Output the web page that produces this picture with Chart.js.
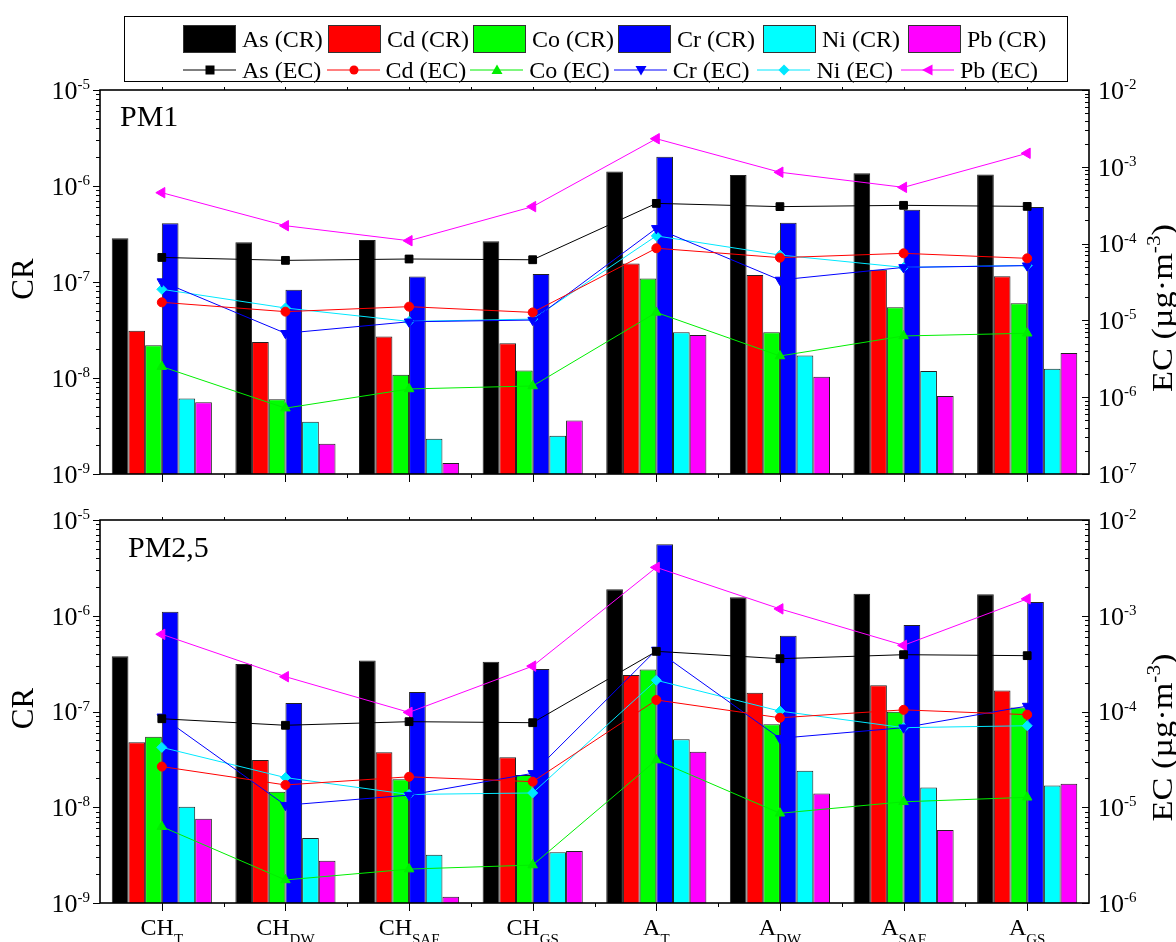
<!DOCTYPE html>
<html>
<head>
<meta charset="utf-8">
<script src="https://cdn.jsdelivr.net/npm/chart.js@4/dist/chart.umd.min.js"></script>
<style>
    html, body { margin: 0; padding: 0; background: #fff; }
    #wrap { position: relative; width: 1176px; height: 942px; overflow: hidden; font-family: "Liberation Serif", "Times New Roman", serif; }
    .panel { position: absolute; left: 0; }
    #legend { position: absolute; left: 124px; top: 16px; width: 944px; height: 66px; border: 1px solid #000; box-sizing: border-box; }
    .item { position: absolute; display: flex; align-items: center; height: 30px; font-size: 24px; line-height: 30px; white-space: nowrap; }
    .swatch { width: 53px; height: 28px; box-sizing: border-box; border: 1px solid #333; margin-right: 6px; }
    .item svg { margin-right: 6px; }
</style>
</head>
<body>
<div id="wrap">
    <canvas id="pm1" class="panel" style="top:0" width="1176" height="490"></canvas>
    <canvas id="pm25" class="panel" style="top:490px" width="1176" height="452"></canvas>
    <div id="legend"></div>
</div>
<script>
const categories = [['CH', 'T'], ['CH', 'DW'], ['CH', 'SAF'], ['CH', 'GS'], ['A', 'T'], ['A', 'DW'], ['A', 'SAF'], ['A', 'GS']];
const metals = ['As', 'Cd', 'Co', 'Cr', 'Ni', 'Pb'];
const barColors = ['#000000', '#ff0000', '#00ff00', '#0000ff', '#00ffff', '#ff00ff'];
const lineColors = ['#000000', '#ff0000', '#00ee00', '#0000ff', '#00e8ff', '#ff00ff'];
const markerStyles = ['rect', 'circle', 'triangle', 'triangle', 'rectRot', 'triangle'];
const markerRotations = [0, 0, 0, 180, 0, -90];
const markerSizes = [5.5, 4.5, 5.5, 5.5, 5, 6];
const crDecades = [-9, -8, -7, -6, -5];
const ecDecadesPM1 = [-7, -6, -5, -4, -3, -2];
const ecDecadesPM25 = [-6, -5, -4, -3, -2];

// PM1 - carcinogenic risk (bars)
const pm1AsCR = [2.85e-7, 2.6e-7, 2.74e-7, 2.65e-7, 1.42e-6, 1.3e-6, 1.36e-6, 1.32e-6];
const pm1CdCR = [3.1e-8, 2.37e-8, 2.7e-8, 2.3e-8, 1.56e-7, 1.18e-7, 1.34e-7, 1.15e-7];
const pm1CoCR = [2.2e-8, 6.0e-9, 1.08e-8, 1.2e-8, 1.09e-7, 3.0e-8, 5.45e-8, 6.0e-8];
const pm1CrCR = [4.1e-7, 8.3e-8, 1.14e-7, 1.21e-7, 2.02e-6, 4.15e-7, 5.66e-7, 6.04e-7];
const pm1NiCR = [6.1e-9, 3.5e-9, 2.33e-9, 2.5e-9, 3.0e-8, 1.72e-8, 1.18e-8, 1.25e-8];
const pm1PbCR = [5.6e-9, 2.07e-9, 1.3e-9, 3.6e-9, 2.8e-8, 1.03e-8, 6.5e-9, 1.82e-8];
// PM1 - exposure concentration (lines)
const pm1AsEC = [6.6e-5, 6.05e-5, 6.3e-5, 6.16e-5, 3.34e-4, 3.03e-4, 3.15e-4, 3.05e-4];
const pm1CdEC = [1.72e-5, 1.3e-5, 1.51e-5, 1.27e-5, 8.7e-5, 6.56e-5, 7.47e-5, 6.43e-5];
const pm1CoEC = [2.5e-6, 7.2e-7, 1.28e-6, 1.4e-6, 1.27e-5, 3.44e-6, 6.27e-6, 6.8e-6];
const pm1CrEC = [3.2e-5, 6.8e-6, 9.6e-6, 1.01e-5, 1.58e-4, 3.36e-5, 4.9e-5, 5.16e-5];
const pm1NiEC = [2.54e-5, 1.45e-5, 9.7e-6, 1.04e-5, 1.26e-4, 7.1e-5, 4.9e-5, 5.2e-5];
const pm1PbEC = [4.6e-4, 1.71e-4, 1.09e-4, 3.03e-4, 2.32e-3, 8.5e-4, 5.4e-4, 1.5e-3];

// PM2,5 - carcinogenic risk (bars)
const pm25AsCR = [3.77e-7, 3.13e-7, 3.4e-7, 3.31e-7, 1.89e-6, 1.56e-6, 1.7e-6, 1.68e-6];
const pm25CdCR = [4.77e-8, 3.11e-8, 3.75e-8, 3.32e-8, 2.4e-7, 1.57e-7, 1.88e-7, 1.66e-7];
const pm25CoCR = [5.46e-8, 1.45e-8, 1.96e-8, 2.17e-8, 2.75e-7, 7.35e-8, 9.95e-8, 1.1e-7];
const pm25CrCR = [1.1e-6, 1.23e-7, 1.6e-7, 2.78e-7, 5.57e-6, 6.2e-7, 8.0e-7, 1.39e-6];
const pm25NiCR = [1.01e-8, 4.77e-9, 3.2e-9, 3.38e-9, 5.13e-8, 2.4e-8, 1.61e-8, 1.69e-8];
const pm25PbCR = [7.6e-9, 2.77e-9, 1.16e-9, 3.5e-9, 3.8e-8, 1.39e-8, 5.8e-9, 1.76e-8];
// PM2,5 - exposure concentration (lines)
const pm25AsEC = [8.4e-5, 7.18e-5, 7.83e-5, 7.64e-5, 4.25e-4, 3.56e-4, 3.92e-4, 3.83e-4];
const pm25CdEC = [2.66e-5, 1.71e-5, 2.08e-5, 1.85e-5, 1.32e-4, 8.6e-5, 1.04e-4, 9.27e-5];
const pm25CoEC = [6.27e-6, 1.74e-6, 2.26e-6, 2.49e-6, 3.11e-5, 8.65e-6, 1.14e-5, 1.27e-5];
const pm25CrEC = [8.8e-5, 1.05e-5, 1.34e-5, 2.26e-5, 4.39e-4, 5.25e-5, 6.78e-5, 1.14e-4];
const pm25NiEC = [4.22e-5, 2.04e-5, 1.36e-5, 1.41e-5, 2.12e-4, 1.01e-4, 6.78e-5, 7.1e-5];
const pm25PbEC = [6.4e-4, 2.31e-4, 9.8e-5, 2.98e-4, 3.2e-3, 1.18e-3, 4.91e-4, 1.5e-3];

const FONT = '"Liberation Serif", "Times New Roman", serif';
const pow10 = d => Number('1e' + d);

// draws "10" with a raised exponent
function drawPower(ctx, x, y, exp, align) {
    ctx.font = '26px ' + FONT;
    const wb = ctx.measureText('10').width;
    ctx.font = '15px ' + FONT;
    const sup = String(exp);
    const ws = ctx.measureText(sup).width;
    const x0 = align === 'right' ? x - wb - ws : x;
    ctx.textAlign = 'left';
    ctx.textBaseline = 'middle';
    ctx.font = '26px ' + FONT;
    ctx.fillText('10', x0, y + 2);
    ctx.textBaseline = 'alphabetic';
    ctx.font = '15px ' + FONT;
    ctx.fillText(sup, x0 + wb, y - 1);
}

// log ticks (1..9 per decade) and decade labels
function drawLogAxis(ctx, scale, x, tickDir, labelDir, decades) {
    const first = decades[0];
    const last = decades[decades.length - 1];
    ctx.beginPath();
    for (let e = first; e <= last; e++) {
        for (let m = 1; m < 10; m++) {
            if (e === last && m > 1) break;
            const py = Math.round(scale.getPixelForValue(m * pow10(e))) + 0.5;
            const len = m === 1 ? 7 : 4;
            ctx.moveTo(x, py);
            ctx.lineTo(x + tickDir * len, py);
        }
    }
    ctx.stroke();
    decades.forEach(d => {
        const py = scale.getPixelForValue(pow10(d));
        if (labelDir < 0) drawPower(ctx, x - 10, py, d, 'right');
        else drawPower(ctx, x + 9, py, d, 'left');
    });
}

// rotated axis title, optionally stretched along its length
function drawVerticalTitle(ctx, parts, baselineX, centerY, length) {
    let natural = 0;
    parts.forEach(p => { ctx.font = p.size + 'px ' + FONT; natural += ctx.measureText(p.text).width; });
    ctx.save();
    ctx.translate(baselineX, centerY);
    ctx.rotate(-Math.PI / 2);
    if (length) ctx.scale(length / natural, 1);
    ctx.textAlign = 'left';
    ctx.textBaseline = 'alphabetic';
    let x = -natural / 2;
    parts.forEach(p => {
        ctx.font = p.size + 'px ' + FONT;
        ctx.fillText(p.text, x, -(p.rise || 0));
        x += ctx.measureText(p.text).width;
    });
    ctx.restore();
}

const panelDecor = {
    id: 'panelDecor',
    afterDraw(chart) {
        const o = chart.options.plugins.panelDecor;
        const { ctx, chartArea: a, scales } = chart;
        ctx.save();
        ctx.fillStyle = '#000';
        ctx.strokeStyle = '#000';
        ctx.lineWidth = 1;

        drawLogAxis(ctx, scales.y, a.left, -1, -1, crDecades);
        drawLogAxis(ctx, scales.y1, a.right, -1, 1, o.ecDecades);

        // category ticks (centres) and group boundaries
        const step = (a.right - a.left) / categories.length;
        ctx.beginPath();
        categories.forEach((c, i) => {
            const px = Math.round(scales.x.getPixelForValue(i)) + 0.5;
            ctx.moveTo(px, a.bottom); ctx.lineTo(px, a.bottom + 8);
            ctx.moveTo(px, a.top); ctx.lineTo(px, a.top - 3);
            if (i > 0) {
                const bx = Math.round(a.left + step * i) + 0.5;
                ctx.moveTo(bx, a.bottom); ctx.lineTo(bx, a.bottom + 4);
                ctx.moveTo(bx, a.top); ctx.lineTo(bx, a.top - 3);
            }
        });
        ctx.stroke();

        ctx.lineWidth = 1.6;
        ctx.strokeRect(a.left, a.top, a.right - a.left, a.bottom - a.top);

        if (o.showCategories) {
            categories.forEach((c, i) => {
                const px = scales.x.getPixelForValue(i);
                ctx.font = '24px ' + FONT;
                const wm = ctx.measureText(c[0]).width;
                ctx.font = '15px ' + FONT;
                const ws = ctx.measureText(c[1]).width;
                const x0 = px - (wm + ws) / 2;
                ctx.textAlign = 'left';
                ctx.textBaseline = 'alphabetic';
                ctx.font = '24px ' + FONT;
                ctx.fillText(c[0], x0, a.bottom + 32);
                ctx.font = '15px ' + FONT;
                ctx.fillText(c[1], x0 + wm, a.bottom + 41);
            });
        }

        // panel name
        ctx.font = '30px ' + FONT;
        ctx.textAlign = 'left';
        ctx.textBaseline = 'alphabetic';
        ctx.fillText(o.name, a.left + o.nameDx, a.top + o.nameDy);

        // axis titles
        const midY = (a.top + a.bottom) / 2;
        drawVerticalTitle(ctx, [{ text: 'CR', size: 31 }], 33, midY - 3);
        drawVerticalTitle(ctx, [
            { text: 'EC (µg·m', size: 29 },
            { text: '-3', size: 18, rise: 12 },
            { text: ')', size: 29 }
        ], 1172, midY + 26, 168);

        ctx.restore();
    }
};

function buildPanel(canvasId, crSets, ecSets, ecDecades, layout) {
    const datasets = [];
    metals.forEach((m, i) => {
        datasets.push({
            type: 'bar',
            label: m + ' (CR)',
            data: crSets[i],
            backgroundColor: barColors[i],
            borderColor: '#222',
            borderWidth: 1,
            yAxisID: 'y',
            order: 2,
            barPercentage: 1,
            categoryPercentage: 0.81
        });
    });
    metals.forEach((m, i) => {
        datasets.push({
            type: 'line',
            label: m + ' (EC)',
            data: ecSets[i],
            borderColor: lineColors[i],
            backgroundColor: lineColors[i],
            pointBackgroundColor: lineColors[i],
            pointBorderColor: lineColors[i],
            borderWidth: 1,
            pointStyle: markerStyles[i],
            rotation: markerRotations[i],
            pointRadius: markerSizes[i],
            pointBorderWidth: 1,
            tension: 0,
            yAxisID: 'y1',
            order: 1
        });
    });

    return new Chart(document.getElementById(canvasId), {
        data: {
            labels: categories.map(c => c[0] + c[1]),
            datasets: datasets
        },
        options: {
            responsive: false,
            animation: false,
            devicePixelRatio: 1,
            layout: { padding: { top: layout.top, left: 0, right: 0, bottom: 0 } },
            plugins: {
                legend: { display: false },
                tooltip: { enabled: false },
                panelDecor: {
                    ecDecades: ecDecades,
                    showCategories: layout.showCategories,
                    name: layout.name,
                    nameDx: layout.nameDx,
                    nameDy: layout.nameDy
                }
            },
            scales: {
                x: {
                    type: 'category',
                    offset: true,
                    grid: { display: false },
                    border: { display: false },
                    ticks: { display: false },
                    afterFit(s) { s.height = layout.xAxisHeight; }
                },
                y: {
                    type: 'logarithmic',
                    position: 'left',
                    min: pow10(crDecades[0]),
                    max: pow10(crDecades[crDecades.length - 1]),
                    grid: { display: false },
                    border: { display: false },
                    ticks: { display: false },
                    afterFit(s) { s.width = 100; }
                },
                y1: {
                    type: 'logarithmic',
                    position: 'right',
                    min: pow10(ecDecades[0]),
                    max: pow10(ecDecades[ecDecades.length - 1]),
                    grid: { display: false },
                    border: { display: false },
                    ticks: { display: false },
                    afterFit(s) { s.width = 87; }
                }
            }
        },
        plugins: [panelDecor]
    });
}

buildPanel('pm1',
    [pm1AsCR, pm1CdCR, pm1CoCR, pm1CrCR, pm1NiCR, pm1PbCR],
    [pm1AsEC, pm1CdEC, pm1CoEC, pm1CrEC, pm1NiEC, pm1PbEC],
    ecDecadesPM1,
    { top: 90, xAxisHeight: 16, showCategories: false, name: 'PM1', nameDx: 20, nameDy: 36 });

buildPanel('pm25',
    [pm25AsCR, pm25CdCR, pm25CoCR, pm25CrCR, pm25NiCR, pm25PbCR],
    [pm25AsEC, pm25CdEC, pm25CoEC, pm25CrEC, pm25NiEC, pm25PbEC],
    ecDecadesPM25,
    { top: 30, xAxisHeight: 39, showCategories: true, name: 'PM2,5', nameDx: 28, nameDy: 37 });

// Legend: bar swatches on the first row, line samples on the second
function markerSvg(i) {
    const c = lineColors[i];
    const shapes = [
        `<rect x="22.5" y="5.5" width="9" height="9" fill="${c}"/>`,
        `<circle cx="27" cy="10" r="4.5" fill="${c}"/>`,
        `<polygon points="27,4.5 32.5,14 21.5,14" fill="${c}"/>`,
        `<polygon points="21.5,6 32.5,6 27,15.5" fill="${c}"/>`,
        `<polygon points="27,4.5 32.5,10 27,15.5 21.5,10" fill="${c}"/>`,
        `<polygon points="21,10 31.5,4.5 31.5,15.5" fill="${c}"/>`
    ];
    return `<svg width="53" height="20" viewBox="0 0 53 20"><line x1="0" y1="10" x2="53" y2="10" stroke="${c}" stroke-width="1"/>${shapes[i]}</svg>`;
}

const legend = document.getElementById('legend');
metals.forEach((m, i) => {
    const top = document.createElement('div');
    top.className = 'item';
    top.style.left = (58 + i * 145) + 'px';
    top.style.top = '7px';
    top.innerHTML = `<div class="swatch" style="background:${barColors[i]}"></div><span>${m} (CR)</span>`;
    legend.appendChild(top);

    const bottom = document.createElement('div');
    bottom.className = 'item';
    bottom.style.left = (58 + i * 143.6) + 'px';
    bottom.style.top = '38px';
    bottom.innerHTML = `${markerSvg(i)}<span>${m} (EC)</span>`;
    legend.appendChild(bottom);
});
</script>
</body>
</html>
